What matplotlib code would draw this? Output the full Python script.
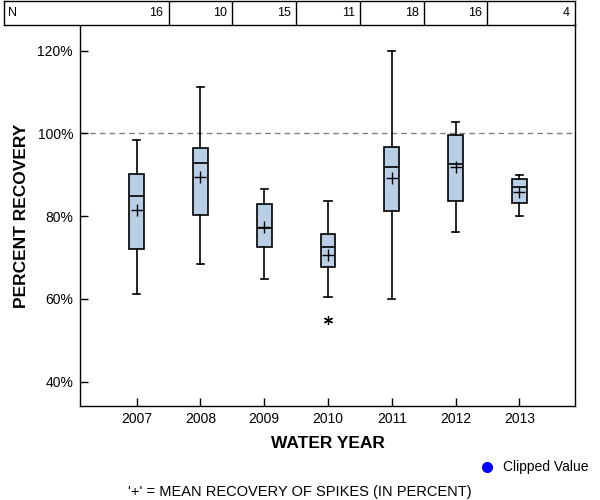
import matplotlib
matplotlib.use("Agg")
import matplotlib.pyplot as plt
from matplotlib.lines import Line2D

plt.rcParams['font.family'] = ['Liberation Sans', 'DejaVu Sans']

years = ['2007', '2008', '2009', '2010', '2011', '2012', '2013']
counts = [16, 10, 15, 11, 18, 16, 4]
whis_lo = [61.1, 68.4, 64.7, 60.4, 60.0, 76.1, 80.0]
q1 = [72.0, 80.2, 72.5, 67.6, 81.2, 83.6, 83.1]
median = [84.9, 92.8, 77.1, 72.5, 91.9, 92.5, 87.0]
q3 = [90.1, 96.4, 82.9, 75.6, 96.8, 99.5, 89.0]
whis_hi = [98.3, 111.3, 86.6, 83.6, 120.0, 102.7, 90.0]
means = [81.5, 89.5, 77.3, 70.7, 89.1, 91.9, 85.9]
outliers = [[], [], [], [54.9], [], [], []]
yticks = [40, 60, 80, 100, 120]

W, H = 600, 500
fig = plt.figure(figsize=(6, 5), dpi=100)
L, R, T, B = 80, 575, 25, 406
ax = fig.add_axes([L / W, 1 - B / H, (R - L) / W, (B - T) / H])

stats = []
for i in range(len(years)):
    stats.append(dict(whislo=whis_lo[i], q1=q1[i], med=median[i], q3=q3[i],
                      whishi=whis_hi[i], mean=means[i], fliers=outliers[i]))
pos = list(range(1, len(years) + 1))
ax.bxp(stats, positions=pos, widths=0.23, capwidths=0.115,
       showmeans=True, patch_artist=True,
       boxprops=dict(facecolor='#b9cfe6', edgecolor='black', linewidth=1.2),
       medianprops=dict(color='black', linewidth=1.2),
       whiskerprops=dict(color='black', linewidth=1.2),
       capprops=dict(color='black', linewidth=1.2),
       meanprops=dict(marker='+', markeredgecolor='black', markersize=8,
                      markeredgewidth=1.0),
       flierprops=dict(marker=(6, 2, 0), markeredgecolor='black',
                       markerfacecolor='black', markersize=6.5, markeredgewidth=0.9))

ax.axhline(100, color='#808080', linestyle=(0, (4, 3)), linewidth=1.0, zorder=0)

xl = (0.111, 7.873)
ax.set_xlim(*xl)
ax.set_ylim(34.1, 126.2)
ax.set_xticks(pos)
ax.set_xticklabels(years)
ax.set_yticks(yticks)
ax.set_yticklabels([f'{v}%' for v in yticks])
ax.tick_params(direction='in', length=6, width=1, labelsize=10)
ax.tick_params(axis='x', pad=4)
ax.tick_params(axis='y', pad=5)
for s in ax.spines.values():
    s.set_linewidth(1.0)
ax.spines['top'].set_visible(False)

# N table on top
tl, tr = 4, 575
tax = fig.add_axes([tl / W, 1 - T / H, (tr - tl) / W, (T - 0.6) / H])
ppu = (R - L) / (xl[1] - xl[0])
tleft = xl[0] - (L - tl) / ppu
tax.set_xlim(tleft, xl[1])
tax.set_ylim(0, 1)
tax.set_xticks([])
tax.set_yticks([])
for s in tax.spines.values():
    s.set_linewidth(1.0)
dividers = [p + 0.5 for p in pos[:-1]]
for d in dividers:
    tax.axvline(d, color='black', linewidth=1.0)
tax.text(tleft + 0.06, 0.5, 'N', ha='left', va='center', fontsize=9)
rights = dividers + [xl[1]]
for r, n in zip(rights, counts):
    tax.text(r - 0.08, 0.5, str(n), ha='right', va='center', fontsize=9)

fig.text((L + R) / 2 / W, 1 - 443 / H, 'WATER YEAR', ha='center', va='center',
         fontsize=12.5, fontweight='bold')
fig.text(22 / W, 1 - (T + B) / 2 / H, 'PERCENT RECOVERY', ha='center', va='center',
         rotation=90, fontsize=12.5, fontweight='bold')

fig.add_artist(Line2D([487 / W], [1 - 466.5 / H], marker='o', color='blue',
                      markersize=7, linestyle='none', transform=fig.transFigure))
fig.text(503 / W, 1 - 467.5 / H, 'Clipped Value', ha='left', va='center', fontsize=10)
fig.text(300 / W, 1 - 492 / H, "'+' = MEAN RECOVERY OF SPIKES (IN PERCENT)",
         ha='center', va='center', fontsize=10.5)

fig.savefig('out.png', dpi=100)
